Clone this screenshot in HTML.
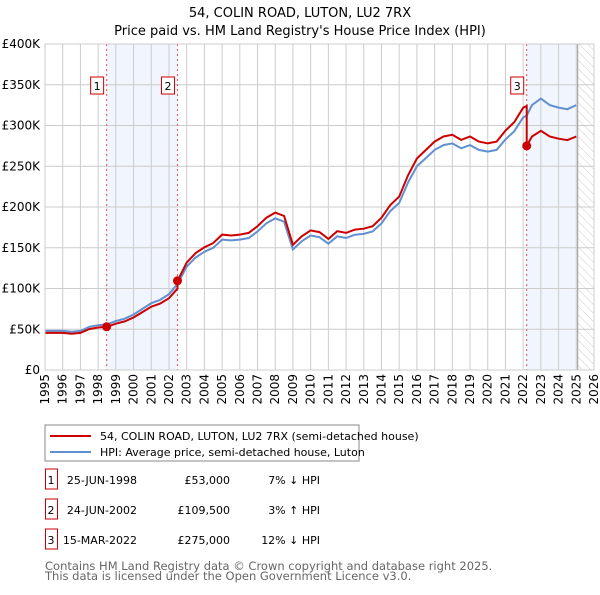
<!DOCTYPE html>
<html><head><meta charset="utf-8"><style>
body{margin:0;background:#fff;font-family:"Liberation Sans","DejaVu Sans",sans-serif;}
svg text{font-family:"DejaVu Sans","Liberation Sans",sans-serif;}
</style></head><body>
<svg id="c" width="600" height="590" xmlns="http://www.w3.org/2000/svg">
<defs><pattern id="hatch" width="6" height="6" patternUnits="userSpaceOnUse" patternTransform="rotate(-45)"><line x1="0" y1="0" x2="0" y2="6" stroke="#ccc" stroke-width="1"/></pattern></defs>
<text x="300" y="17" text-anchor="middle" font-size="13">54, COLIN ROAD, LUTON, LU2 7RX</text>
<text x="300" y="35" text-anchor="middle" font-size="13">Price paid vs. HM Land Registry's House Price Index (HPI)</text>
<g id="plot"></g>
<rect x="45" y="425" width="314" height="36" fill="#fff" stroke="#888"/>
<line x1="50" y1="436" x2="91" y2="436" stroke="#cc0000" stroke-width="2"/>
<text x="100" y="440" font-size="11">54, COLIN ROAD, LUTON, LU2 7RX (semi-detached house)</text>
<line x1="50" y1="452" x2="91" y2="452" stroke="#6090d0" stroke-width="2"/>
<text x="100" y="456" font-size="11">HPI: Average price, semi-detached house, Luton</text>
<g id="table" font-size="11"></g>
<text x="45" y="570" font-size="11.5" fill="#666">Contains HM Land Registry data © Crown copyright and database right 2025.</text>
<text x="45" y="580" font-size="11.5" fill="#666">This data is licensed under the Open Government Licence v3.0.</text>
</svg>
<script>
const hpiYears=[1995,1995.5,1996,1996.5,1997,1997.5,1998,1998.5,1999,1999.5,2000,2000.5,2001,2001.5,2002,2002.5,2003,2003.5,2004,2004.5,2005,2005.5,2006,2006.5,2007,2007.5,2008,2008.5,2009,2009.5,2010,2010.5,2011,2011.5,2012,2012.5,2013,2013.5,2014,2014.5,2015,2015.5,2016,2016.5,2017,2017.5,2018,2018.5,2019,2019.5,2020,2020.5,2021,2021.5,2022,2022.2,2022.5,2023,2023.5,2024,2024.5,2025];
const hpiValues=[48,48,48,47,48,53,55,56,60,63,68,75,82,86,93,106,127,138,145,150,160,159,160,162,170,180,186,182,148,158,165,163,155,164,162,166,167,170,180,195,205,230,250,260,270,276,278,272,276,270,268,270,283,293,310,312,325,333,325,322,320,325];
const saleYears=[1998.48,2002.48,2022.2];
const salePrices=[53,109.5,275];
const saleLabels=["1","2","3"];
const saleDates=["25-JUN-1998","24-JUN-2002","15-MAR-2022"];
const salePriceText=["£53,000","£109,500","£275,000"];
const saleHpiText=["7% ↓ HPI","3% ↑ HPI","12% ↓ HPI"];
const yTicks=[0,50,100,150,200,250,300,350,400];
const yTickLabels=["£0","£50K","£100K","£150K","£200K","£250K","£300K","£350K","£400K"];
const xTicks=[1995,1996,1997,1998,1999,2000,2001,2002,2003,2004,2005,2006,2007,2008,2009,2010,2011,2012,2013,2014,2015,2016,2017,2018,2019,2020,2021,2022,2023,2024,2025,2026];
const NS="http://www.w3.org/2000/svg";
const X0=45,X1=594,Y0=370,Y1=44,T0=1995,T1=2026,VMAX=400,DATA_END=2025.08;
const xs=t=>X0+(t-T0)/(T1-T0)*(X1-X0);
const ys=v=>Y0-v/VMAX*(Y0-Y1);
const plot=document.getElementById('plot');
function mk(tag,attrs,parent){const e=document.createElementNS(NS,tag);for(const k in attrs)e.setAttribute(k,attrs[k]);(parent||plot).appendChild(e);return e;}
function hpiAt(t){for(let i=0;i<hpiYears.length-1;i++){if(t<=hpiYears[i+1]){const f=(t-hpiYears[i])/(hpiYears[i+1]-hpiYears[i]);return hpiValues[i]+f*(hpiValues[i+1]-hpiValues[i]);}}return hpiValues[hpiValues.length-1];}
let s=mk('rect',{x:xs(saleYears[0]),y:Y1,width:xs(saleYears[1])-xs(saleYears[0]),height:Y0-Y1,fill:'#eef3fc',opacity:0.8});


s=mk('rect',{x:xs(saleYears[2]),y:Y1,width:xs(DATA_END)-xs(saleYears[2]),height:Y0-Y1,fill:'#eef3fc',opacity:0.8});


s=mk('rect',{x:xs(DATA_END),y:Y1,width:X1-xs(DATA_END),height:Y0-Y1,fill:'url(#hatch)'});


yTicks.forEach((v,i)=>{const l=mk('line',{x1:X0,x2:X1,y1:ys(v),y2:ys(v),stroke:'#ccc'});


const t=mk('text',{x:X0-5,y:ys(v)+4,'text-anchor':'end','font-size':'12'});t.textContent=yTickLabels[i];

});
xTicks.forEach(yr=>{const l=mk('line',{x1:xs(yr),x2:xs(yr),y1:Y1,y2:Y0,stroke:'#ccc'});


const t=mk('text',{x:0,y:0,'text-anchor':'end','font-size':'12',transform:`translate(${xs(yr)+4},374) rotate(-90)`});t.textContent=yr;

});
const ed=mk('line',{x1:xs(DATA_END),x2:xs(DATA_END),y1:Y1,y2:Y0,stroke:'#999'});


saleYears.forEach((t,i)=>{const l=mk('line',{x1:xs(t),x2:xs(t),y1:Y1,y2:Y0,stroke:'#e05050','stroke-dasharray':'2,3'});

});
const hp=hpiYears.map((t,i)=>xs(t).toFixed(1)+','+ys(hpiValues[i]).toFixed(1)).join(' ');
const hl=mk('polyline',{points:hp,fill:'none',stroke:'#6090d0','stroke-width':2});


const pts=[];
const grid=[...new Set([...hpiYears,...saleYears])].sort((a,b)=>a-b);
grid.forEach(t=>{let k=0;for(let i=0;i<saleYears.length;i++)if(t>=saleYears[i])k=i;
 if(saleYears.includes(t)&&saleYears.indexOf(t)>0){const j=saleYears.indexOf(t)-1;pts.push([t,salePrices[j]*hpiAt(t)/hpiAt(saleYears[j])]);}
 pts.push([t,salePrices[k]*hpiAt(t)/hpiAt(saleYears[k])]);});
const pl=mk('polyline',{points:pts.map(p=>xs(p[0]).toFixed(1)+','+ys(p[1]).toFixed(1)).join(' '),fill:'none',stroke:'#cc0000','stroke-width':2});


saleYears.forEach((t,i)=>{const c=mk('circle',{cx:xs(t),cy:ys(salePrices[i]),r:4.5,fill:'#cc0000'});


const bx=xs(t)-16,r=mk('rect',{x:bx,y:77,width:13,height:17,fill:'#fff',stroke:'#cc0000'});


const tx=mk('text',{x:bx+6.5,y:90,'text-anchor':'middle','font-size':'11'});tx.textContent=saleLabels[i];

});
const bd=mk('rect',{x:X0,y:Y1,width:X1-X0,height:Y0-Y1,fill:'none',stroke:'#ccc'});


const tb=document.getElementById('table');
saleYears.forEach((t,i)=>{const y=483+i*30;
const r=mk('rect',{x:45.5,y:y-14,width:12,height:20,fill:'#fff',stroke:'#cc0000'},tb);


const cells=[[51,'middle',saleLabels[i],'table-index'],[137,'end',saleDates[i],'table-date'],[230,'end',salePriceText[i],'table-price'],[320,'end',saleHpiText[i],'table-hpi-change']];
cells.forEach(c=>{const e=mk('text',{x:c[0],y:y+1,'text-anchor':c[1]},tb);e.textContent=c[2];

});});
</script>
</body></html>
